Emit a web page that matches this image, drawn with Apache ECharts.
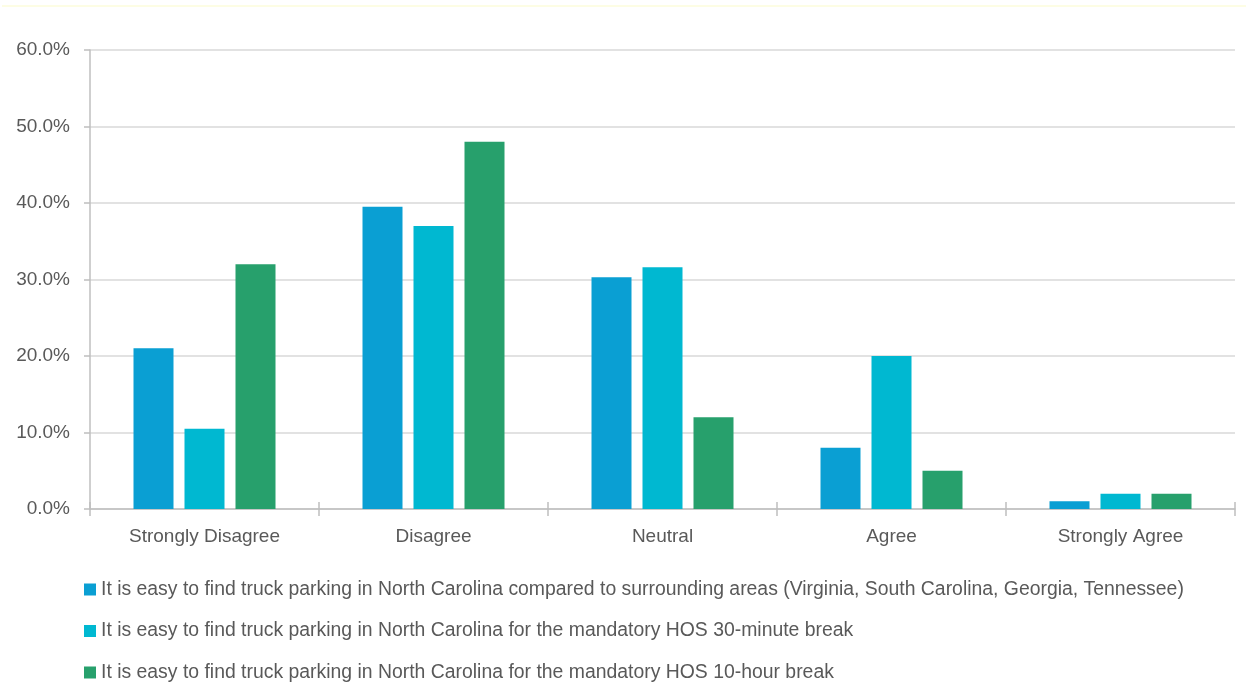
<!DOCTYPE html>
<html>
<head>
<meta charset="utf-8">
<title>Truck parking survey</title>
<script src="https://cdn.jsdelivr.net/npm/echarts@6/dist/echarts.min.js"></script>
<style>
  html, body { margin: 0; padding: 0; background: #ffffff; }
  #chart { width: 1246px; height: 698px; }
</style>
</head>
<body>
<div id="chart"></div>
<script>
// Response categories (x axis)
const categories = ['Strongly Disagree', 'Disagree', 'Neutral', 'Agree', 'Strongly Agree'];

// Survey statements (legend entries)
const seriesNames = [
  'It is easy to find truck parking in North Carolina compared to surrounding areas (Virginia, South Carolina, Georgia, Tennessee)',
  'It is easy to find truck parking in North Carolina for the mandatory HOS 30-minute break',
  'It is easy to find truck parking in North Carolina for the mandatory HOS 10-hour break'
];

// Share of respondents, percent
const comparedToSurrounding = [21.0, 39.5, 30.3, 8.0, 1.0];
const break30Minute = [10.5, 37.0, 31.6, 20.0, 2.0];
const break10Hour = [32.0, 48.0, 12.0, 5.0, 2.0];

// Value axis ticks
const yTicks = [0, 10, 20, 30, 40, 50, 60];

const seriesColors = ['#0a9fd3', '#00b8d1', '#27a06c'];
const textColor = '#595959';
const labelFont = "'Liberation Sans', Arial, sans-serif";

const chart = echarts.init(document.getElementById('chart'), null, { renderer: 'canvas' });

const valuesBySeries = [comparedToSurrounding, break30Minute, break10Hour];

const option = {
  animation: false,
  backgroundColor: '#ffffff',
  textStyle: { fontFamily: labelFont, color: textColor },
  grid: { left: 90, right: 11, top: 50, bottom: 189, containLabel: false },
  legend: {
    orient: 'vertical',
    left: 79,
    top: 575,
    itemWidth: 12,
    itemHeight: 12,
    itemGap: 22.5,
    icon: 'rect',
    data: seriesNames,
    textStyle: { fontFamily: labelFont, fontSize: 19.4, color: textColor }
  },
  xAxis: [
    {
      type: 'category',
      data: categories,
      axisLine: { lineStyle: { color: '#bfbfbf', width: 1.5 } },
      axisTick: { show: true, length: 7, lineStyle: { color: '#bfbfbf', width: 1.5 } },
      axisLabel: { margin: 18, fontSize: 19, color: textColor, fontFamily: labelFont }
    },
    {
      // tick marks that rise above the baseline at each category boundary
      type: 'category',
      data: categories,
      position: 'bottom',
      axisLine: { show: false },
      axisTick: { show: true, inside: true, length: 7, lineStyle: { color: '#bfbfbf', width: 1.5 } },
      axisLabel: { show: false }
    }
  ],
  yAxis: {
    type: 'value',
    min: yTicks[0],
    max: yTicks[yTicks.length - 1],
    interval: yTicks[1] - yTicks[0],
    axisLine: { show: true, lineStyle: { color: '#bfbfbf', width: 1.5 } },
    axisTick: { show: true, length: 6, lineStyle: { color: '#bfbfbf', width: 1.5 } },
    splitLine: { lineStyle: { color: '#d9d9d9', width: 1.5 } },
    axisLabel: {
      margin: 20,
      fontSize: 19,
      color: textColor,
      fontFamily: labelFont,
      formatter: v => v.toFixed(1) + '%'
    }
  },
  series: seriesNames.map((name, i) => ({
    name,
    type: 'bar',
    xAxisIndex: 0,
    data: valuesBySeries[i],
    barWidth: 40,
    barGap: '27.5%',
    itemStyle: { color: seriesColors[i] }
  })),
  graphic: [
    {
      type: 'rect',
      shape: { x: 2, y: 5, width: 1244, height: 2 },
      style: { fill: '#fdfde4' },
      silent: true
    }
  ]
};

chart.setOption(option);
</script>
</body>
</html>
